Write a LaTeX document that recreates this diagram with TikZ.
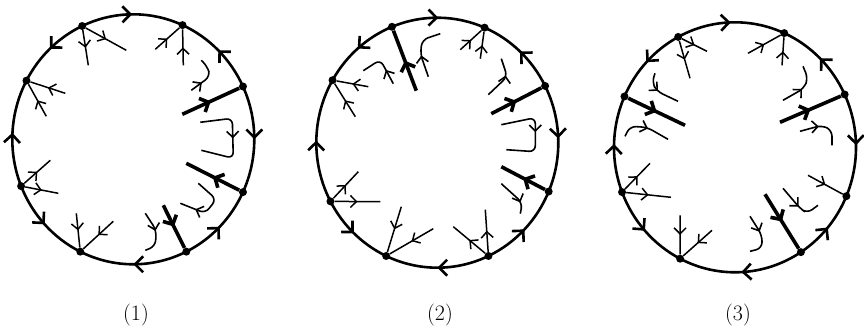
\documentclass[tikz,border=0pt]{standalone}
\usepackage{tikz}
\usetikzlibrary{arrows.meta,decorations.markings}
\tikzset{
  rimline/.style={line width=2.6pt},
  rimarrow/.style={rimline, postaction={decorate},
    decoration={markings, mark=at position 0.5 with {\arrow{Straight Barb[length=8pt,width=16pt]}}}},
  vertexdot/.style={circle, fill, inner sep=0pt, minimum size=8pt},
  thinarrow/.style={line width=1.5pt, postaction={decorate},
    decoration={markings, mark=at position #1 with {\arrow{Straight Barb[length=6pt,width=12pt]}}}},
  thinarrow/.default=0.5,
  thickarrow/.style={line width=3.6pt, postaction={decorate},
    decoration={markings, mark=at position 0.5 with {\arrow{Straight Barb[length=7pt,width=15pt]}}}},
  hookarrow/.style={line width=1.6pt, rounded corners=6pt, postaction={decorate},
    decoration={markings, mark=at position #1 with {\arrow{Straight Barb[length=6pt,width=12pt]}}}},
  hookarrow/.default=0.5,
  caption/.style={font=\fontsize{22}{26}\selectfont, anchor=base}
}

\begin{document}
\begin{tikzpicture}[x=1pt, y=1pt]
\useasboundingbox (0,0) rectangle (864,332);

% (1)
\begin{scope}[shift={(133.3,192.7)}]
  \foreach \n/\a in {1/115, 2/66, 3/25, 4/-25, 5/-64, 6/-116, 7/-158, 8/152}
    \node[vertexdot] (a\n) at (\a:121 and 125) {};
  \foreach \v/\s/\e in {a1/115/66, a3/25/66, a3/25/-25, a5/-64/-25,
                        a5/-64/-116, a7/-158/-116, a7/-158/-208, a1/115/152}
    \draw[rimarrow] (\v) arc[start angle=\s, end angle=\e, x radius=121, y radius=125];
  \draw[thinarrow] (a1) -- (-45,74) coordinate (a1p);
  \draw[thinarrow] (a1) -- (-7,89) coordinate (a1q);
  \draw[thinarrow] (22,90) coordinate (a2p) -- (a2);
  \draw[thinarrow] (50,74) coordinate (a2q) -- (a2);
  \draw[thickarrow] (49,25) coordinate (a3p) -- (a3);
  \draw[thickarrow] (a4) -- (53,-24) coordinate (a4p);
  \draw[thickarrow] (30,-66) coordinate (a5p) -- (a5);
  \draw[thinarrow] (-57,-74) coordinate (a6p) -- (a6);
  \draw[thinarrow] (-20,-82) coordinate (a6q) -- (a6);
  \draw[thinarrow] (a7) -- (-83,-21) coordinate (a7p);
  \draw[thinarrow] (a7) -- (-75,-54) coordinate (a7q);
  \draw[thinarrow] (-68,46) coordinate (a8p) -- (a8);
  \draw[thinarrow] (-87,23) coordinate (a8q) -- (a8);
  % hooks
  \draw[hookarrow=0.3] (58,49) -- (77,63) -- (74,73) -- (68,79);
  \draw[hookarrow] (67,17) -- (99,21) -- (100,-19) -- (68,-11);
  \draw[hookarrow=0.75] (65,-44) -- (83,-60) -- (72,-74) -- (47,-64);
  \draw[hookarrow=0.45] (12,-74) -- (23,-91) -- (22,-107) -- (12,-111);
\end{scope}

% (2)
\begin{scope}[shift={(437.3,189.3)}]
  \foreach \n/\a in {1/112, 2/67, 3/27, 4/-23, 5/-65, 6/-115, 7/-152, 8/150}
    \node[vertexdot] (b\n) at (\a:121 and 125) {};
  \foreach \v/\s/\e in {b1/112/67, b3/27/67, b3/27/-23, b5/-65/-23,
                        b5/-65/-115, b7/-152/-115, b7/-152/-210, b1/112/150}
    \draw[rimarrow] (\v) arc[start angle=\s, end angle=\e, x radius=121, y radius=125];
  \draw[thickarrow] (-21,52) coordinate (b1p) -- (b1);
  \draw[thinarrow] (23,93) coordinate (b2p) -- (b2);
  \draw[thinarrow] (43,84) coordinate (b2q) -- (b2);
  \draw[thickarrow] (54,29) coordinate (b3p) -- (b3);
  \draw[thickarrow] (b4) -- (64,-24) coordinate (b4p);
  \draw[thinarrow] (b5) -- (48,-67) coordinate (b5p);
  \draw[thinarrow] (b5) -- (16,-84) coordinate (b5q);
  \draw[thinarrow] (-36,-64) coordinate (b6p) -- (b6);
  \draw[thinarrow] (-4,-86) coordinate (b6q) -- (b6);
  \draw[thinarrow] (b7) -- (-79,-29) coordinate (b7p);
  \draw[thinarrow] (b7) -- (-57,-59) coordinate (b7q);
  \draw[thinarrow] (-69,56) coordinate (b8p) -- (b8);
  \draw[thinarrow] (-82,26) coordinate (b8q) -- (b8);
  % hooks
  \draw[hookarrow=0.35] (-44,59) -- (-57,83) -- (-74,72);
  \draw[hookarrow=0.4] (-9,66) -- (-17,89) -- (-15,103) -- (3,109);
  \draw[hookarrow=0.6] (51,48) -- (70,66) -- (64,84);
  \draw[hookarrow] (64,18) -- (98,25) -- (98,-9) -- (69,-7);
  \draw[hookarrow=0.7] (64,-41) -- (85,-60) -- (83,-71);
\end{scope}

% (3)
\begin{scope}[shift={(735,184.7)}]
  \foreach \n/\a in {1/118, 2/66, 3/25, 4/-23, 5/-57, 6/-117, 7/-159, 8/156}
    \node[vertexdot] (c\n) at (\a:121 and 125) {};
  \foreach \v/\s/\e in {c1/118/66, c3/25/66, c3/25/-23, c5/-57/-23,
                        c5/-57/-117, c7/-159/-117, c7/-159/-204, c1/118/156}
    \draw[rimarrow] (\v) arc[start angle=\s, end angle=\e, x radius=121, y radius=125];
  \draw[thinarrow] (c1) -- (-45,69) coordinate (c1p);
  \draw[thinarrow] (c1) -- (-28,96) coordinate (c1q);
  \draw[thinarrow] (13,94) coordinate (c2p) -- (c2);
  \draw[thinarrow] (47,82) coordinate (c2q) -- (c2);
  \draw[thickarrow] (45,25) coordinate (c3p) -- (c3);
  \draw[thinarrow] (73,-28) coordinate (c4p) -- (c4);
  \draw[thickarrow] (30,-47) coordinate (c5p) -- (c5);
  \draw[thinarrow] (-55,-68) coordinate (c6p) -- (c6);
  \draw[thinarrow] (-23,-83) coordinate (c6q) -- (c6);
  \draw[thinarrow] (c7) -- (-85,-16) coordinate (c7p);
  \draw[thinarrow] (c7) -- (-64,-50) coordinate (c7q);
  \draw[thickarrow] (c8) -- (-50,22) coordinate (c8p);
  % hooks
  \draw[hookarrow] (-80,74) -- (-83,65) -- (-78,56) -- (-57,46);
  \draw[hookarrow=0.55] (-110,11) -- (-105,21) -- (-88,20) -- (-67,8);
  \draw[hookarrow=0.45] (48,47) -- (69,59) -- (73,69) -- (68,81);
  \draw[hookarrow=0.4] (65,16) -- (87,22) -- (97,17) -- (97,2);
  \draw[hookarrow=0.45] (48,-41) -- (65,-61) -- (72,-66) -- (83,-58);
  \draw[hookarrow=0.4] (15,-69) -- (27,-88) -- (27,-101) -- (15,-104);
\end{scope}

\node[caption] (l1) at (136,12) {(1)};
\node[caption] (l2) at (440,12) {(2)};
\node[caption] (l3) at (738,12) {(3)};
\end{tikzpicture}
\end{document}
